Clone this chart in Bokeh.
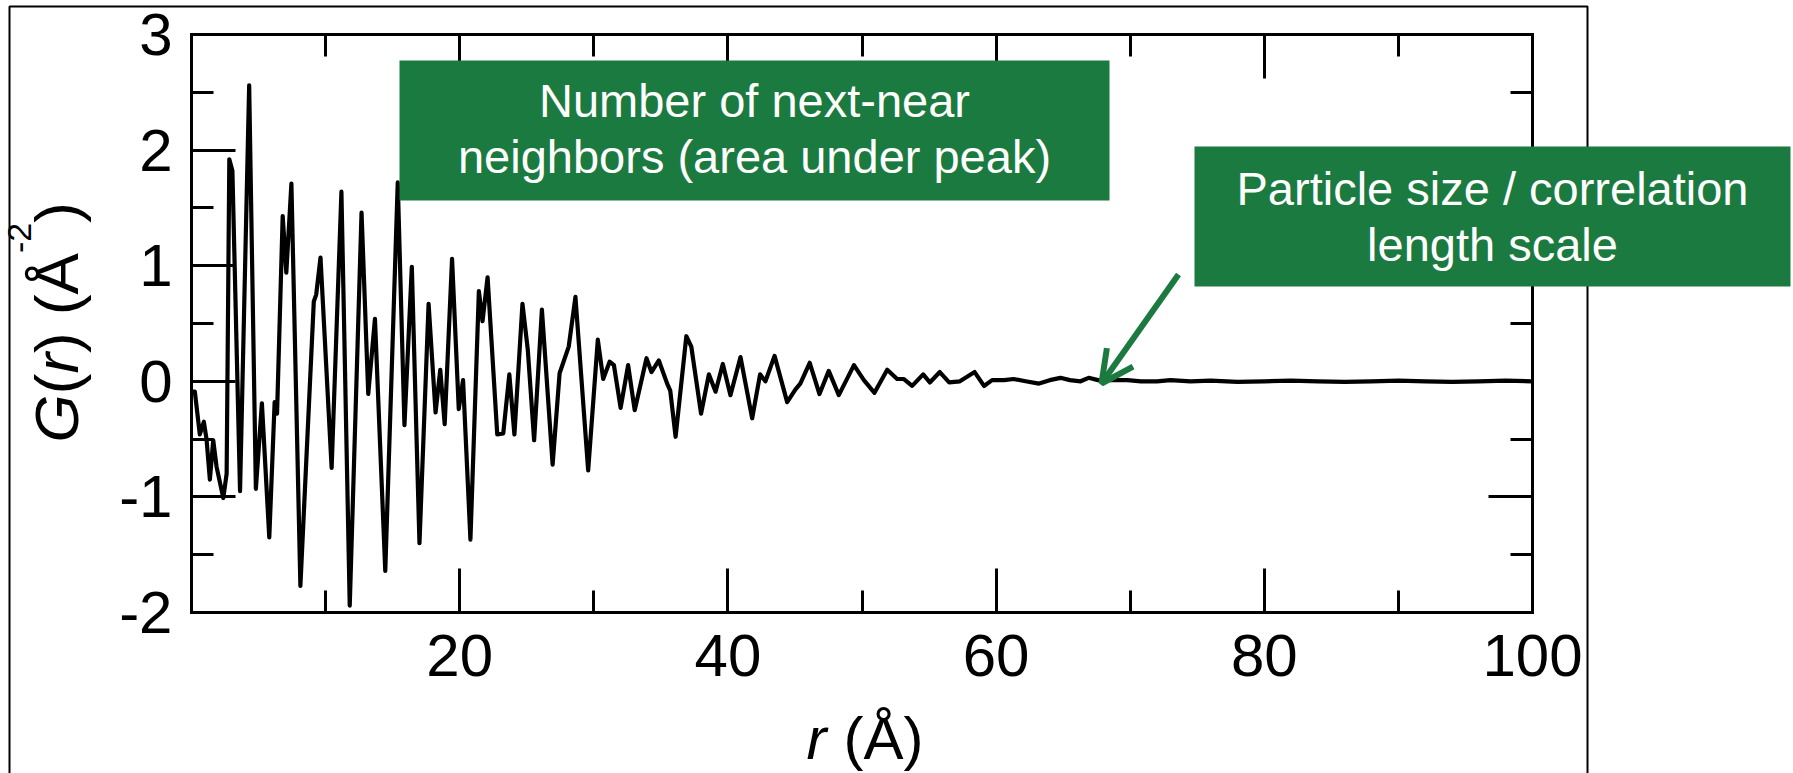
import numpy as np
from bokeh.plotting import figure
from bokeh.models import (Range1d, LinearAxis, FixedTicker, BoxAnnotation, Label,
                          Arrow, OpenHead, CustomJSTickFormatter)
from bokeh.embed import file_html
from bokeh.resources import INLINE

# ---- data ----
r_values = [0.0, 0.25, 0.62, 0.92, 1.12, 1.37, 1.62, 1.87, 2.37, 2.62,
            2.82, 3.05, 3.62, 4.30, 4.80, 5.25, 5.80, 6.20, 6.38, 6.80,
            7.07, 7.45, 8.12, 9.12, 9.30, 9.62, 10.45, 11.18, 11.80, 12.68,
            13.18, 13.68, 14.45, 15.38, 15.88, 16.43, 17.00, 17.68, 18.20, 18.55,
            18.88, 19.43, 19.93, 20.25, 20.80, 21.43, 21.70, 22.08, 22.80, 23.25,
            23.70, 24.08, 24.68, 25.08, 25.55, 26.13, 26.93, 27.45, 28.13, 28.63,
            29.58, 30.30, 30.70, 31.18, 31.50, 32.00, 32.56, 33.05, 33.93, 34.30,
            34.85, 35.47, 35.70, 36.10, 36.90, 37.27, 38.00, 38.58, 39.08, 39.62,
            40.19, 40.94, 41.81, 42.40, 42.80, 43.48, 44.42, 45.04, 45.40, 46.10,
            46.83, 47.52, 48.27, 49.40, 50.14, 50.93, 51.88, 52.62, 53.10, 53.74,
            54.56, 55.06, 55.80, 56.50, 57.30, 58.40, 59.10, 59.70, 60.60, 61.30,
            62.20, 63.20, 64.00, 64.80, 65.50, 66.30, 66.90, 67.60, 68.80, 69.80,
            70.80, 72.00, 73.00, 74.50, 76.00, 78.00, 80.00, 82.00, 84.00, 86.00,
            88.00, 90.00, 92.00, 94.00, 96.00, 98.00, 100.00]
g_values = [-0.09, -0.09, -0.46, -0.35, -0.50, -0.85, -0.51, -0.74, -1.01, -0.80,
            1.92, 1.82, -0.95, 2.56, -0.93, -0.19, -1.35, -0.18, -0.28, 1.43,
            0.94, 1.71, -1.77, 0.69, 0.75, 1.07, -0.75, 1.64, -1.94, 1.46,
            -0.11, 0.54, -1.64, 1.72, -0.38, 0.99, -1.40, 0.67, -0.27, 0.10,
            -0.37, 1.06, -0.24, 0.01, -1.37, 0.78, 0.52, 0.90, -0.46, -0.45,
            0.06, -0.46, 0.67, 0.27, -0.51, 0.62, -0.72, 0.07, 0.30, 0.73,
            -0.77, 0.36, 0.02, 0.17, 0.14, -0.23, 0.14, -0.25, 0.20, 0.08,
            0.18, -0.02, -0.08, -0.48, 0.39, 0.30, -0.28, 0.06, -0.09, 0.15,
            -0.12, 0.21, -0.32, 0.06, 0.00, 0.22, -0.18, -0.07, -0.02, 0.16,
            -0.11, 0.09, -0.12, 0.14, 0.01, -0.10, 0.10, 0.02, 0.02, -0.04,
            0.06, -0.01, 0.08, -0.01, 0.00, 0.08, -0.04, 0.01, 0.01, 0.02,
            0.00, -0.02, 0.01, 0.03, 0.01, 0.00, 0.03, 0.01, 0.01, 0.01,
            0.00, 0.00, 0.01, 0.00, 0.005, -0.005, 0.00, 0.005, 0.00, -0.005,
            0.00, 0.005, 0.00, -0.005, 0.00, 0.005, 0.00]

x_major_ticks = [20, 40, 60, 80, 100]
x_minor_ticks = [10, 30, 50, 70, 90]
x_tick_labels = ["20", "40", "60", "80", "100"]
y_major_ticks = [-2, -1, 0, 1, 2, 3]
y_minor_ticks = [-1.5, -0.5, 0.5, 1.5, 2.5]
y_tick_labels = ["-2", "-1", "0", "1", "2", "3"]

box1_text = "Number of next-near\nneighbors (area under peak)"
box2_text = "Particle size / correlation\nlength scale"

# ---- layout (pixel positions of the data frame inside the page) ----
W, H = 1793, 773
FL, FR, FT, FB = 191, 1532, 34, 612
X0, X1, Y0, Y1 = 0, 100, -2, 3
GREEN = "#1b7a3f"
FONT = "Liberation Sans"


def dx(px):
    return X0 + (px - FL) / (FR - FL) * (X1 - X0)


def dy(py):
    return Y1 - (py - FT) / (FB - FT) * (Y1 - Y0)


# the plotting frame covers the whole page; the axes are drawn at fixed data locations
p = figure(width=W, height=H, x_range=Range1d(dx(0), dx(W)), y_range=Range1d(dy(H), dy(0)),
           output_backend="svg", toolbar_location=None,
           x_axis_location=None, y_axis_location=None,
           min_border_left=0, min_border_right=0, min_border_top=0, min_border_bottom=0)
p.title = None
for g in p.grid:
    g.visible = False
p.background_fill_color = "white"
p.border_fill_color = "white"
p.outline_line_color = None

blank = CustomJSTickFormatter(code="return ''")


def style_axis(ax, standoff=12):
    ax.axis_line_color = "black"
    ax.axis_line_width = 3
    ax.axis_line_cap = "square"
    ax.major_tick_in = 44
    ax.major_tick_out = 0
    ax.minor_tick_in = 22
    ax.minor_tick_out = 0
    ax.major_tick_line_width = 3
    ax.minor_tick_line_width = 3
    ax.major_tick_line_color = "black"
    ax.minor_tick_line_color = "black"
    ax.major_label_text_font = FONT
    ax.major_label_text_font_size = "60px"
    ax.major_label_text_color = "black"
    ax.major_label_standoff = standoff


xb = LinearAxis(ticker=FixedTicker(ticks=x_major_ticks, minor_ticks=x_minor_ticks),
                major_label_overrides={t: s for t, s in zip(x_major_ticks, x_tick_labels)},
                fixed_location=Y0, bounds=(X0, X1))
style_axis(xb, standoff=22)
p.add_layout(xb, "below")

xt = LinearAxis(ticker=FixedTicker(ticks=x_major_ticks, minor_ticks=x_minor_ticks), formatter=blank,
                fixed_location=Y1, bounds=(X0, X1))
style_axis(xt)
p.add_layout(xt, "above")

yl = LinearAxis(ticker=FixedTicker(ticks=y_major_ticks, minor_ticks=y_minor_ticks),
                major_label_overrides={t: s for t, s in zip(y_major_ticks, y_tick_labels)},
                fixed_location=X0, bounds=(Y0, Y1))
style_axis(yl, standoff=19)
p.add_layout(yl, "left")

yr = LinearAxis(ticker=FixedTicker(ticks=y_major_ticks, minor_ticks=y_minor_ticks), formatter=blank,
                fixed_location=X1, bounds=(Y0, Y1))
style_axis(yr)
p.add_layout(yr, "right")

# ---- curve ----
p.line(r_values, g_values, line_color="black", line_width=4.2, line_join="round")

# ---- outer slide frame ----
p.add_layout(BoxAnnotation(left=dx(9), right=dx(1587), top=dy(6), bottom=dy(900),
                           fill_color=None, fill_alpha=0, line_color="black", line_alpha=1,
                           line_width=2, level="underlay"))

# ---- green annotation boxes ----
p.add_layout(BoxAnnotation(left=dx(399), right=dx(1109), top=dy(60), bottom=dy(200),
                           fill_color=GREEN, fill_alpha=1, line_color=None))
p.add_layout(BoxAnnotation(left=dx(1194), right=dx(1790), top=dy(146), bottom=dy(286),
                           fill_color=GREEN, fill_alpha=1, line_color=None))
p.add_layout(Label(x=dx(754), y=dy(128), text=box1_text, text_align="center",
                   text_baseline="middle", text_font=FONT, text_font_size="47px",
                   text_color="white", text_line_height=1.05))
p.add_layout(Label(x=dx(1492), y=dy(216), text=box2_text, text_align="center",
                   text_baseline="middle", text_font=FONT, text_font_size="47px",
                   text_color="white", text_line_height=1.07))

# ---- arrow ----
p.add_layout(Arrow(end=OpenHead(line_color=GREEN, line_width=6, size=32),
                   x_start=dx(1178), y_start=dy(274), x_end=dx(1101), y_end=dy(383),
                   line_color=GREEN, line_width=6))

# ---- x axis label: r (Å) ----
XL_BASE = 738
p.add_layout(Label(x=dx(806), y=dy(XL_BASE), text="r", text_font=FONT, text_font_size="60px",
                   text_font_style="italic", text_align="left", text_baseline="alphabetic",
                   text_color="black"))
p.add_layout(Label(x=dx(843), y=dy(XL_BASE), text="(Å)", text_font=FONT, text_font_size="60px",
                   text_align="left", text_baseline="alphabetic", text_color="black"))

# ---- y axis label: G(r) (Å^-2), rotated ----
YB = 56
S = 62
pieces = [("G", "italic", S, 0.778, YB), ("(", "normal", S, 0.333, YB),
          ("r", "italic", S, 0.333, YB), (") (Å", "normal", S, 1.611, YB),
          ("-2", "normal", 34, 0.889, 19), (")", "normal", S, 0.333, YB)]
ypos = 442.0
for txt, style, size, adv, base in pieces:
    p.add_layout(Label(x=dx(base), y=dy(ypos), text=txt, angle=np.pi / 2,
                       text_font=FONT, text_font_size=f"{size}px", text_font_style=style,
                       text_align="left", text_baseline="alphabetic", text_color="black"))
    ypos -= adv * size

open("out.html", "w").write(file_html(p, INLINE))
